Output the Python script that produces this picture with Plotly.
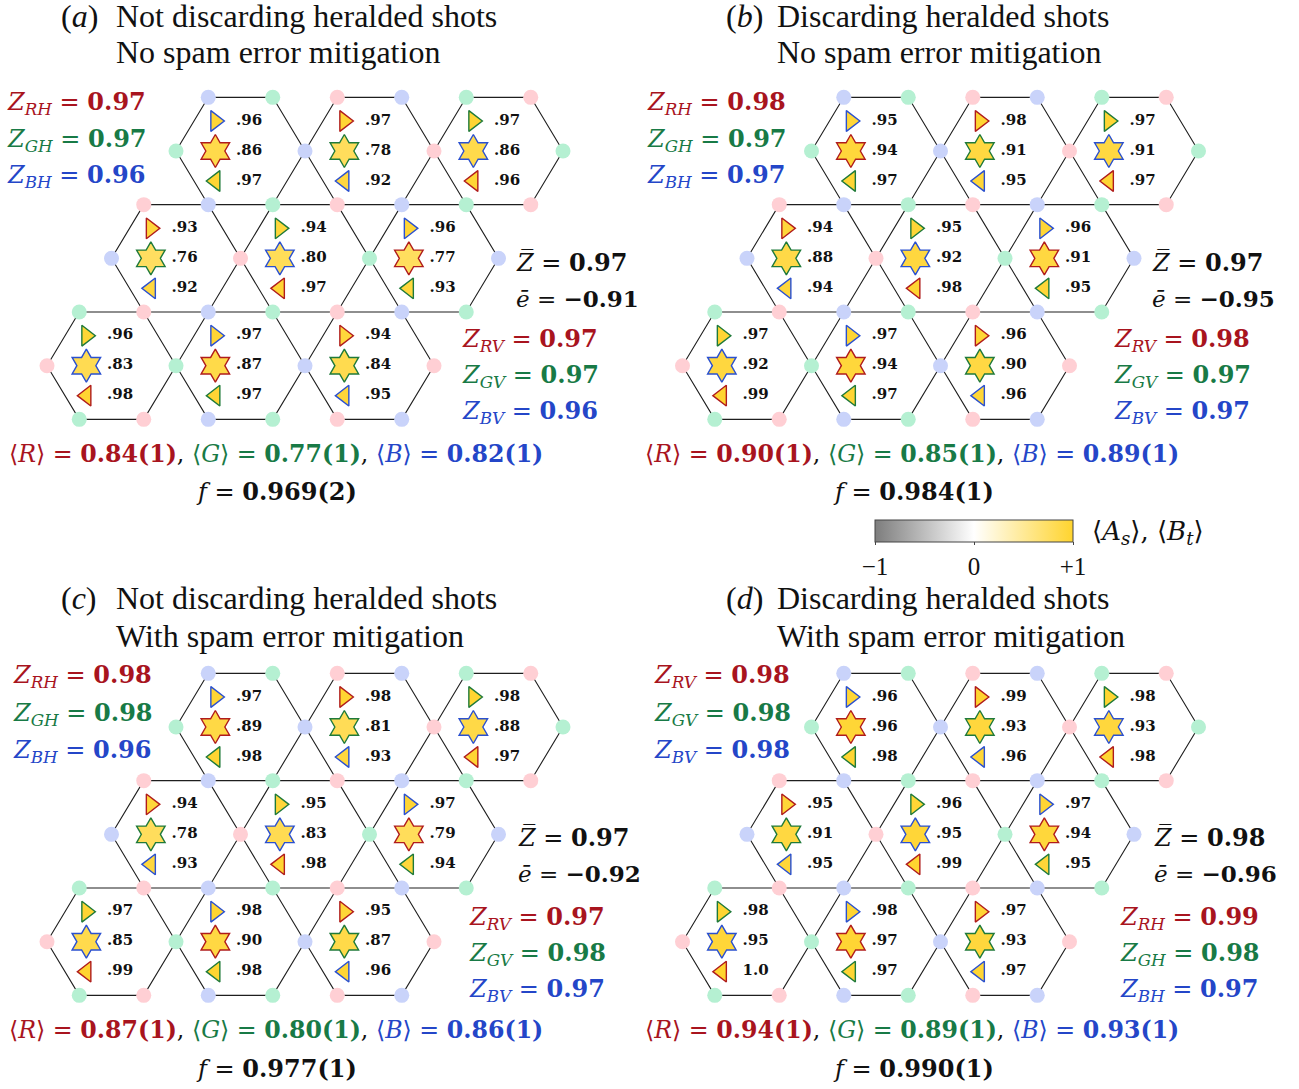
import plotly.graph_objects as go

W, H = 1299, 1089

# ---------------- data ----------------
PANELS = ["a", "b", "c", "d"]
TITLE_1 = {"a": "Not discarding heralded shots", "b": "Discarding heralded shots",
           "c": "Not discarding heralded shots", "d": "Discarding heralded shots"}
TITLE_2 = {"a": "No spam error mitigation", "b": "No spam error mitigation",
           "c": "With spam error mitigation", "d": "With spam error mitigation"}

# plaquette order: top row (L->R), middle row, bottom row
TRI_RIGHT = {
    "a": [.96, .97, .97, .93, .94, .96, .96, .97, .94],
    "b": [.95, .98, .97, .94, .95, .96, .97, .97, .96],
    "c": [.97, .98, .98, .94, .95, .97, .97, .98, .95],
    "d": [.96, .99, .98, .95, .96, .97, .98, .98, .97],
}
STAR = {
    "a": [.86, .78, .86, .76, .80, .77, .83, .87, .84],
    "b": [.94, .91, .91, .88, .92, .91, .92, .94, .90],
    "c": [.89, .81, .88, .78, .83, .79, .85, .90, .87],
    "d": [.96, .93, .93, .91, .95, .94, .95, .97, .93],
}
TRI_LEFT = {
    "a": [.97, .92, .96, .92, .97, .93, .98, .97, .95],
    "b": [.97, .95, .97, .94, .98, .95, .99, .97, .96],
    "c": [.98, .93, .97, .93, .98, .94, .99, .98, .96],
    "d": [.98, .96, .98, .95, .99, .95, 1.0, .97, .97],
}
RIGHT_EDGE = ["B", "R", "G", "R", "G", "B", "G", "B", "R"]
STAR_EDGE = ["R", "G", "B", "G", "B", "R", "B", "R", "G"]
LEFT_EDGE = ["G", "B", "R", "B", "R", "G", "R", "G", "B"]

Z_H = {"a": [0.97, 0.97, 0.96], "b": [0.98, 0.97, 0.97], "c": [0.98, 0.98, 0.96], "d": [0.99, 0.98, 0.97]}
Z_V = {"a": [0.97, 0.97, 0.96], "b": [0.98, 0.97, 0.97], "c": [0.97, 0.98, 0.97], "d": [0.98, 0.98, 0.98]}
Z_MEAN = {"a": 0.97, "b": 0.97, "c": 0.97, "d": 0.98}
E_MEAN = {"a": -0.91, "b": -0.95, "c": -0.92, "d": -0.96}
MEAN_R = {"a": "0.84(1)", "b": "0.90(1)", "c": "0.87(1)", "d": "0.94(1)"}
MEAN_G = {"a": "0.77(1)", "b": "0.85(1)", "c": "0.80(1)", "d": "0.89(1)"}
MEAN_B = {"a": "0.82(1)", "b": "0.89(1)", "c": "0.86(1)", "d": "0.93(1)"}
FIDELITY = {"a": "0.969(2)", "b": "0.984(1)", "c": "0.977(1)", "d": "0.990(1)"}
LEFT_KIND = {"a": "H", "b": "H", "c": "H", "d": "V"}
CBAR_TICKS = [-1, 0, 1]
CBAR_TICKTEXT = ["\u22121", "0", "+1"]

# ---------------- geometry / style ----------------
HEX_CX = [3, 5, 7, 2, 4, 6, 1, 3, 5]
HEX_ROW = [0, 0, 0, -2, -2, -2, -4, -4, -4]
U = 64.5            # px per lattice unit
HR = 53.67 / U      # half-row height in units
ORIGIN = {"a": (47, 151), "b": (682.5, 151), "c": (47, 727), "d": (682.5, 727)}

TEXT_POS = {
    "a": dict(title=(62, 117, 16, 52), left=(8, [103, 140, 176]), zbar=(517, 262, 298),
              right=(463, [340, 376, 412]), means=(276, 454), fid=(276, 491)),
    "b": dict(title=(727, 778, 16, 52), left=(648, [103, 140, 176]), zbar=(1153, 262, 298),
              right=(1115, [340, 376, 412]), means=(912, 454), fid=(913, 491)),
    "c": dict(title=(62, 117, 598, 636), left=(14, [676, 714, 751]), zbar=(519, 837, 873),
              right=(470, [918, 954, 990]), means=(276, 1030), fid=(276, 1068)),
    "d": dict(title=(727, 778, 598, 636), left=(655, [676, 714, 751]), zbar=(1155, 837, 873),
              right=(1121, [918, 954, 990]), means=(912, 1030), fid=(913, 1068)),
}
PADX = 3  # annotation inner padding

EDGE_COL = {"R": "#b01c1c", "G": "#1f7a3a", "B": "#2a50d0"}
LAB_COL = {"R": "#a8141e", "G": "#187a46", "B": "#2446c8"}
PINK, MINT, LAV = "#ffcfd4", "#b5f0d2", "#c9d3fa"
MATH = "DejaVu Serif"
ROMAN = "Liberation Serif"


def vcolor(x2, r):
    if r % 2 != 0:
        return [MINT, PINK, LAV][((x2 - 1) // 2) % 3]
    if r % 4 == 0:
        return [PINK, MINT, LAV][(x2 // 4) % 3]
    return [LAV, PINK, MINT][((x2 - 2) // 4) % 3]


def fmt(v):
    return "1.0" if v >= 0.995 else ("%.2f" % v)[1:]


def P(x, y):
    return x / W, 1 - y / H


fig = go.Figure()
layout_axes = {}
annotations = []


def add_ann(x, y, text, size, color="#111", family=MATH, anchor="left", pad=1):
    if anchor == "left":
        x = x - PADX + (1 - pad)
    ax, ay = P(x, y)
    annotations.append(dict(x=ax, y=ay, xref="paper", yref="paper", text=text, showarrow=False,
                            xanchor=anchor, yanchor="middle", borderpad=pad,
                            font=dict(family=family, size=size, color=color)))


for i, p in enumerate(PANELS):
    ox, oy = ORIGIN[p]
    xs = "x" if i == 0 else "x%d" % (i + 1)
    ys = "y" if i == 0 else "y%d" % (i + 1)
    xname = "xaxis" if i == 0 else "xaxis%d" % (i + 1)
    yname = "yaxis" if i == 0 else "yaxis%d" % (i + 1)
    layout_axes[xname] = dict(domain=[(ox - 47) / W, (ox + 593) / W],
                              range=[-47 / U, 593 / U], visible=False, fixedrange=True)
    layout_axes[yname] = dict(domain=[1 - (oy + 289) / H, 1 - (oy - 71) / H],
                              range=[-289 / U, 71 / U], visible=False, fixedrange=True)

    # edges
    lx, ly = [], []
    verts = {}
    for cx, cr in zip(HEX_CX, HEX_ROW):
        ring = [(cx - 1, cr), (cx - 0.5, cr + 1), (cx + 0.5, cr + 1),
                (cx + 1, cr), (cx + 0.5, cr - 1), (cx - 0.5, cr - 1)]
        for (vx, vr) in ring + [ring[0]]:
            lx.append(vx)
            ly.append(vr * HR)
        lx.append(None)
        ly.append(None)
        for (vx, vr) in ring:
            verts[(int(round(2 * vx)), vr)] = (vx, vr)
    fig.add_trace(go.Scatter(x=lx, y=ly, mode="lines", xaxis=xs, yaxis=ys,
                             line=dict(color="#1e1e1e", width=1.1), hoverinfo="skip"))
    vx_list = [v[0] for v in verts.values()]
    vy_list = [v[1] * HR for v in verts.values()]
    vc_list = [vcolor(k[0], k[1]) for k in verts.keys()]
    fig.add_trace(go.Scatter(x=vx_list, y=vy_list, mode="markers", xaxis=xs, yaxis=ys,
                             marker=dict(size=15, color=vc_list, line=dict(width=0)),
                             hoverinfo="skip"))

    for sym, vals, edges, dy, size in [("triangle-right", TRI_RIGHT[p], RIGHT_EDGE, 0.465, 18),
                                       ("hexagram", STAR[p], STAR_EDGE, 0.0, 25),
                                       ("triangle-left", TRI_LEFT[p], LEFT_EDGE, -0.465, 18)]:
        mx = [cx - 0.39 for cx in HEX_CX]
        my = [cr * HR + dy for cr in HEX_ROW]
        fig.add_trace(go.Scatter(
            x=mx, y=my, mode="markers", xaxis=xs, yaxis=ys,
            marker=dict(symbol=sym, size=size, color=vals, coloraxis="coloraxis",
                        line=dict(color=[EDGE_COL[e] for e in edges], width=1.4)),
            hoverinfo="skip"))
        fig.add_trace(go.Scatter(
            x=[cx - 0.07 for cx in HEX_CX], y=my, mode="text", xaxis=xs, yaxis=ys,
            text=["<b>%s</b>" % fmt(v) for v in vals], textposition="middle right",
            textfont=dict(family=MATH, size=15, color="#111"), hoverinfo="skip"))

    tp = TEXT_POS[p]
    tx0, tx1, ty1, ty2 = tp["title"]
    add_ann(tx0, ty1, "(<i>%s</i>)" % p, 32, family=ROMAN, pad=0)
    add_ann(tx1, ty1, TITLE_1[p], 32, family=ROMAN, pad=0)
    add_ann(tx1, ty2, TITLE_2[p], 32, family=ROMAN, pad=0)

    def zlabels(kind, x0, ylist):
        vals = Z_H[p] if kind == "H" else Z_V[p]
        for c, v, y in zip("RGB", vals, ylist):
            add_ann(x0, y, "<i>Z</i><sub><i>%s%s</i></sub> = <b>%.2f</b>" % (c, kind, v),
                    24, color=LAB_COL[c])

    lk = LEFT_KIND[p]
    rk = "V" if lk == "H" else "H"
    zlabels(lk, tp["left"][0], tp["left"][1])
    zlabels(rk, tp["right"][0], tp["right"][1])

    zx, zy1, zy2 = tp["zbar"]
    add_ann(zx, zy1, "<i>Z\u0305</i> = <b>%.2f</b>" % Z_MEAN[p], 24)
    add_ann(zx, zy2, "<i>\u0113</i> = <b>\u2212%.2f</b>" % abs(E_MEAN[p]), 23)

    mtxt = ("<span style='color:%s'>\u27e8<i>R</i>\u27e9 = <b>%s</b></span>, "
            "<span style='color:%s'>\u27e8<i>G</i>\u27e9 = <b>%s</b></span>, "
            "<span style='color:%s'>\u27e8<i>B</i>\u27e9 = <b>%s</b></span>") % (
        LAB_COL["R"], MEAN_R[p], LAB_COL["G"], MEAN_G[p], LAB_COL["B"], MEAN_B[p])
    add_ann(tp["means"][0], tp["means"][1], mtxt, 23.7, anchor="center")
    add_ann(tp["fid"][0], tp["fid"][1], "<i>f</i> = <b>%s</b>" % FIDELITY[p], 24, anchor="center")

# colorbar title
add_ann(1093, 532, "\u27e8<i>A<sub>s</sub></i>\u27e9, \u27e8<i>B<sub>t</sub></i>\u27e9", 26)

fig.update_layout(
    width=W, height=H, margin=dict(l=0, r=0, t=0, b=0),
    paper_bgcolor="white", plot_bgcolor="rgba(0,0,0,0)", showlegend=False,
    annotations=annotations,
    coloraxis=dict(
        cmin=-1, cmax=1,
        colorscale=[[0, "#7d7d7d"], [0.5, "#ffffff"], [1, "#ffd42e"]],
        colorbar=dict(orientation="h", x=974 / W, xanchor="center", y=1 - 520 / H, yanchor="top",
                      len=198, lenmode="pixels", thickness=22, thicknessmode="pixels",
                      xpad=0, ypad=0, outlinewidth=1, outlinecolor="#444",
                      ticks="outside", ticklen=3, tickcolor="#444",
                      tickvals=CBAR_TICKS, ticktext=CBAR_TICKTEXT,
                      tickfont=dict(family=ROMAN, size=25, color="#111")),
    ),
    **layout_axes,
)

fig.write_html("out.html", config={"displayModeBar": False},
               post_script="document.body.style.margin='0';")
